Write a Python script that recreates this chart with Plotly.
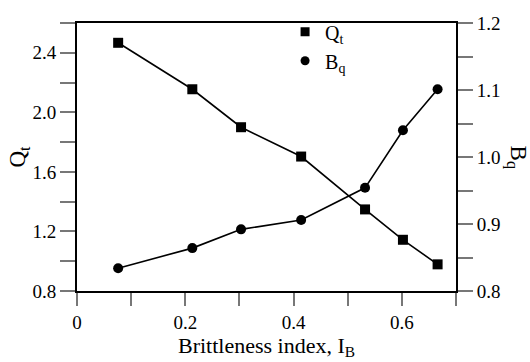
import plotly.graph_objects as go

ib = [0.076, 0.213, 0.303, 0.414, 0.532, 0.602, 0.666]
qt = [2.467, 2.155, 1.90, 1.703, 1.348, 1.144, 0.979]
bq = [0.834, 0.864, 0.892, 0.906, 0.954, 1.040, 1.101]

FONT = "Liberation Serif, Times New Roman, serif"
TICKC = "#777777"

fig = go.Figure()
fig.add_trace(go.Scatter(x=ib, y=qt, mode="lines+markers", showlegend=False,
                         line=dict(color="black", width=1.6),
                         marker=dict(symbol="square", size=10, color="black")))
fig.add_trace(go.Scatter(x=ib, y=bq, mode="lines+markers", showlegend=False, yaxis="y2",
                         line=dict(color="black", width=1.6),
                         marker=dict(symbol="circle", size=10, color="black")))
fig.add_trace(go.Scatter(x=[None], y=[None], mode="markers", name="Q<sub>t</sub>",
                         marker=dict(symbol="square", size=9, color="black")))
fig.add_trace(go.Scatter(x=[None], y=[None], mode="markers", name="B<sub>q</sub>",
                         marker=dict(symbol="circle", size=9, color="black")))

fig.update_layout(
    width=530, height=362,
    margin=dict(l=77, r=74, t=16, b=67),
    plot_bgcolor="white", paper_bgcolor="white",
    font=dict(family=FONT, size=19, color="black"),
    showlegend=True,
    legend=dict(x=0.549, y=1.04, xanchor="left", yanchor="top",
                bgcolor="rgba(0,0,0,0)", font=dict(size=20, family=FONT),
                itemwidth=30, tracegroupgap=0),
    xaxis=dict(range=[0, 0.7], dtick=0.2, tick0=0, showgrid=False, zeroline=False,
               showline=True, linecolor="black", linewidth=1.8, mirror=True,
               ticks="outside", ticklen=13, tickcolor=TICKC, tickwidth=1.5,
               tickfont=dict(family=FONT, size=19),
               minor=dict(dtick=0.1, ticks="outside", ticklen=13, tickcolor=TICKC, tickwidth=1.5),
               title=dict(text="Brittleness index, I<sub>B</sub>", font=dict(size=22, family=FONT), standoff=2)),
    yaxis=dict(range=[0.8, 2.6], dtick=0.4, tick0=0.8, showgrid=False, zeroline=False,
               showline=True, linecolor="black", linewidth=1.8, tickformat=".1f",
               ticks="outside", ticklen=15, tickcolor=TICKC, tickwidth=1.5,
               tickfont=dict(family=FONT, size=19),
               minor=dict(dtick=0.2, ticks="outside", ticklen=15, tickcolor=TICKC, tickwidth=1.5),
               title=dict(text="Q<sub>t</sub>", font=dict(size=23, family=FONT), standoff=0)),
    yaxis2=dict(range=[0.8, 1.2], dtick=0.1, tick0=0.8, overlaying="y", side="right",
                showgrid=False, zeroline=False, tickformat=".1f",
                showline=True, linecolor="black", linewidth=1.8,
                ticks="outside", ticklen=15, tickcolor=TICKC, tickwidth=1.5,
                tickfont=dict(family=FONT, size=19),
                minor=dict(dtick=0.05, ticks="outside", ticklen=15, tickcolor=TICKC, tickwidth=1.5)),
    annotations=[dict(text="B<sub>q</sub>", textangle=90, xref="paper", yref="paper",
                      x=1.162, y=0.5, xanchor="center", yanchor="middle",
                      showarrow=False, font=dict(size=23, family=FONT))],
)

fig.write_html("out.html")
